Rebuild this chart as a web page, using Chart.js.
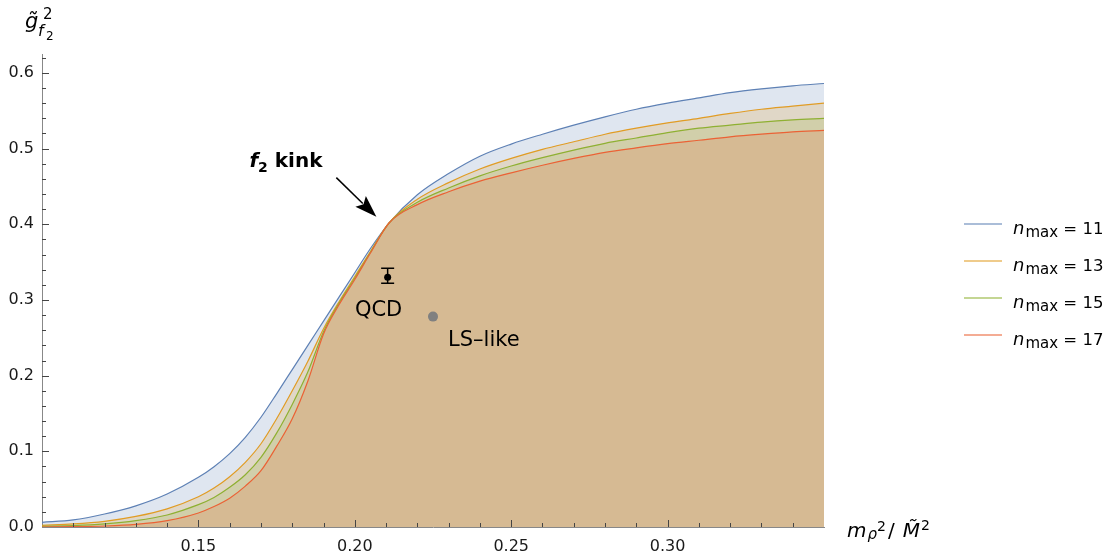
<!DOCTYPE html>
<html>
<head>
<meta charset="utf-8">
<script src="https://cdn.jsdelivr.net/npm/chart.js@4.4.0/dist/chart.umd.min.js"></script>
<style>
  html, body { margin: 0; padding: 0; background: #fff; }
  #wrap { width: 1112px; height: 556px; position: relative; }
</style>
</head>
<body>
<div id="wrap"><canvas id="kinkChart"></canvas></div>
<script>
// m_rho^2 / M^2 sample points (x axis)
const mRho2 = [0.10, 0.11, 0.12, 0.13, 0.14, 0.15, 0.155, 0.16, 0.165, 0.17, 0.175, 0.18, 0.185, 0.19, 0.195, 0.20, 0.205, 0.211,
               0.22, 0.23, 0.24, 0.25, 0.26, 0.27, 0.28, 0.29, 0.30, 0.31, 0.32, 0.33, 0.34, 0.35];

// upper bound on g_f2^2 for each n_max
const nmax11 = [0.0062, 0.0093, 0.0172, 0.028, 0.0436, 0.0656, 0.0797, 0.097, 0.1185, 0.145, 0.176, 0.208, 0.240, 0.272, 0.304, 0.336, 0.368, 0.402,
                0.439, 0.467, 0.490, 0.506, 0.519, 0.531, 0.542, 0.552, 0.560, 0.567, 0.574, 0.579, 0.583, 0.586];
const nmax13 = [0.0022, 0.004, 0.0075, 0.014, 0.024, 0.040, 0.0515, 0.0665, 0.0855, 0.110, 0.143, 0.180, 0.219, 0.262, 0.298, 0.331, 0.364, 0.402,
                0.433, 0.455, 0.473, 0.487, 0.499, 0.509, 0.519, 0.527, 0.534, 0.540, 0.5465, 0.552, 0.556, 0.560];
const nmax15 = [0.001, 0.0018, 0.004, 0.0084, 0.0159, 0.0295, 0.039, 0.0524, 0.069, 0.092, 0.124, 0.162, 0.205, 0.258, 0.296, 0.329, 0.363, 0.402,
                0.429, 0.448, 0.464, 0.477, 0.488, 0.498, 0.507, 0.514, 0.521, 0.527, 0.531, 0.535, 0.538, 0.540];
const nmax17 = [0.0, 0.0004, 0.0013, 0.0035, 0.0084, 0.0185, 0.027, 0.038, 0.054, 0.0744, 0.1065, 0.143, 0.193, 0.255, 0.294, 0.327, 0.362, 0.402,
                0.426, 0.443, 0.457, 0.468, 0.478, 0.487, 0.495, 0.501, 0.5065, 0.511, 0.5155, 0.519, 0.522, 0.524];

const nmaxLabels = ['11', '13', '15', '17'];
const lineColors = ['#5e81b5', '#e19c24', '#8fb032', '#eb6235'];
const fillColors = ['rgba(94,129,181,0.2)', 'rgba(225,156,36,0.2)', 'rgba(143,176,50,0.2)', 'rgba(235,98,53,0.2)'];

// QCD estimate with error bar, and the LS-like point
const qcdPoint = [0.2105, 0.330];
const qcdErr = [0.322, 0.342];
const lsPoint = [0.225, 0.278];

const xTicks = [0.15, 0.20, 0.25, 0.30];
const yTicks = [0.0, 0.1, 0.2, 0.3, 0.4, 0.5, 0.6];

const FONT = "'DejaVu Sans', 'Liberation Sans', Arial, sans-serif";

document.addEventListener('DOMContentLoaded', function() {
    const curves = [nmax11, nmax13, nmax15, nmax17];

    // higher order is painted first, so the n_max = 11 band goes underneath
    const curveSets = curves.map((ys, i) => ({
        label: 'n_max = ' + nmaxLabels[i],
        data: mRho2.map((x, k) => ({ x: x, y: ys[k] })),
        borderColor: lineColors[i],
        backgroundColor: fillColors[i],
        borderWidth: 1.2,
        pointRadius: 0,
        fill: 'origin',
        order: 10 - i,
        cubicInterpolationMode: 'monotone'
    }));

    const markerSets = [
        {
            label: 'QCD',
            data: [{ x: qcdPoint[0], y: qcdPoint[1] }],
            showLine: false,
            pointRadius: 3.5,
            pointBackgroundColor: '#000',
            pointBorderWidth: 0,
            fill: false,
            order: 0
        },
        {
            label: 'LS-like',
            data: [{ x: lsPoint[0], y: lsPoint[1] }],
            showLine: false,
            pointRadius: 5,
            pointBackgroundColor: '#808080',
            pointBorderWidth: 0,
            fill: false,
            order: 1
        }
    ];

    // draws text pieces one after another, returns the end x
    function run(ctx, parts, x, y) {
        parts.forEach(p => {
            ctx.font = p[1];
            ctx.fillText(p[0], x + (p[3] || 0), y + (p[2] || 0));
            x += ctx.measureText(p[0]).width + (p[3] || 0);
        });
        return x;
    }

    // inward ticks (Mathematica style), error bar, annotations, axis labels, legend
    const decorations = {
        id: 'decorations',
        afterDatasetsDraw(chart) {
            const ctx = chart.ctx;
            const xs = chart.scales.x, ys = chart.scales.y;
            const area = chart.chartArea;
            ctx.save();
            ctx.strokeStyle = '#444';
            ctx.lineWidth = 1;
            ctx.beginPath();
            for (let k = 11; k <= 34; k++) {
                const px = Math.round(xs.getPixelForValue(k / 100)) + 0.5;
                const len = (k % 5 === 0) ? 7 : 4;
                ctx.moveTo(px, area.bottom);
                ctx.lineTo(px, area.bottom - len);
            }
            for (let k = 1; k <= 31; k++) {
                const py = Math.round(ys.getPixelForValue(k * 0.02)) + 0.5;
                const len = (k % 5 === 0) ? 7 : 4;
                ctx.moveTo(area.left, py);
                ctx.lineTo(area.left + len, py);
            }
            ctx.stroke();

            // QCD error bar
            const qx = xs.getPixelForValue(qcdPoint[0]);
            const qTop = ys.getPixelForValue(qcdErr[1]);
            const qBot = ys.getPixelForValue(qcdErr[0]);
            ctx.strokeStyle = '#000';
            ctx.lineWidth = 1.5;
            ctx.beginPath();
            ctx.moveTo(qx, qTop); ctx.lineTo(qx, qBot);
            ctx.moveTo(qx - 6.5, qTop); ctx.lineTo(qx + 6.5, qTop);
            ctx.moveTo(qx - 6.5, qBot); ctx.lineTo(qx + 6.5, qBot);
            ctx.stroke();

            // point labels
            ctx.fillStyle = '#000';
            ctx.font = '21px ' + FONT;
            ctx.textBaseline = 'middle';
            ctx.textAlign = 'center';
            ctx.fillText('QCD', xs.getPixelForValue(0.2076), ys.getPixelForValue(0.286));
            ctx.textAlign = 'left';
            ctx.fillText('LS\u2013like', xs.getPixelForValue(0.2298), ys.getPixelForValue(0.246));

            // "f2 kink" label and arrow
            ctx.textBaseline = 'alphabetic';
            run(ctx, [
                ['f', 'italic bold 20px ' + FONT],
                ['2', 'bold 14px ' + FONT, 5],
                [' kink', 'bold 20px ' + FONT]
            ], xs.getPixelForValue(0.1663), ys.getPixelForValue(0.4751));

            const tx = xs.getPixelForValue(0.1941), ty = ys.getPixelForValue(0.4616);
            const hx = xs.getPixelForValue(0.2069), hy = ys.getPixelForValue(0.410);
            const dx = hx - tx, dy = hy - ty, d = Math.hypot(dx, dy);
            const ux = dx / d, uy = dy / d;
            const headLen = 22, headW = 7.5;
            const bx = hx - ux * headLen, by = hy - uy * headLen;
            ctx.lineWidth = 1.5;
            ctx.beginPath();
            ctx.moveTo(tx, ty); ctx.lineTo(bx + ux * 3, by + uy * 3);
            ctx.stroke();
            ctx.beginPath();
            ctx.moveTo(hx, hy);
            ctx.lineTo(bx - uy * headW, by + ux * headW);
            ctx.lineTo(bx + ux * 4, by + uy * 4);
            ctx.lineTo(bx + uy * headW, by - ux * headW);
            ctx.closePath();
            ctx.fill();

            // y axis title  g~^2_{f2}
            ctx.font = 'italic 21px ' + FONT;
            ctx.fillText('g\u0303', 25, 28);
            ctx.font = '15px ' + FONT;
            ctx.fillText('2', 43, 19);
            ctx.font = 'italic 16px ' + FONT;
            ctx.fillText('f', 38, 36);
            ctx.font = '12px ' + FONT;
            ctx.fillText('2', 46, 40);

            // x axis title  m_rho^2 / M~^2
            run(ctx, [
                ['m', 'italic 20px ' + FONT],
                ['\u03c1', 'italic 15px ' + FONT, 2, 1],
                ['2', '14px ' + FONT, -6],
                ['/', '20px ' + FONT, 0, 2],
                ['M\u0303', 'italic 20px ' + FONT, 0, 8],
                ['2', '14px ' + FONT, -7, 1]
            ], 847, 537);

            // legend
            curves.forEach((c, i) => {
                const ly = 224 + 37 * i;
                ctx.save();
                ctx.globalAlpha = 0.7;
                ctx.strokeStyle = lineColors[i];
                ctx.lineWidth = 1.6;
                ctx.beginPath();
                ctx.moveTo(964, ly); ctx.lineTo(1002, ly);
                ctx.stroke();
                ctx.restore();
                ctx.fillStyle = '#000';
                run(ctx, [
                    ['n', 'italic 18px ' + FONT],
                    ['max', '15px ' + FONT, 3, 1],
                    [' = ' + nmaxLabels[i], '16.5px ' + FONT]
                ], 1013, ly + 9.5);
            });
            ctx.restore();
        }
    };

    const ctx = document.getElementById('kinkChart').getContext('2d');
    new Chart(ctx, {
        type: 'line',
        data: { datasets: markerSets.concat(curveSets) },
        options: {
            responsive: true,
            maintainAspectRatio: false,
            animation: false,
            layout: { padding: { top: 54, right: 288, left: 0, bottom: 0 } },
            plugins: {
                legend: { display: false },
                tooltip: { enabled: false },
                filler: { drawTime: 'beforeDatasetsDraw' }
            },
            scales: {
                x: {
                    type: 'linear',
                    min: 0.10,
                    max: 0.35,
                    grid: { display: false, drawTicks: false },
                    border: { display: true, color: '#888', width: 1 },
                    afterBuildTicks: s => { s.ticks = xTicks.map(v => ({ value: v })); },
                    afterFit: s => { s.height = 29; },
                    ticks: {
                        padding: 10,
                        color: '#1a1a1a',
                        font: { family: FONT, size: 16 },
                        maxRotation: 0,
                        callback: v => v.toFixed(2)
                    }
                },
                y: {
                    type: 'linear',
                    min: 0,
                    max: 0.625,
                    grid: { display: false, drawTicks: false },
                    border: { display: true, color: '#888', width: 1 },
                    afterBuildTicks: s => { s.ticks = yTicks.map(v => ({ value: v })); },
                    afterFit: s => { s.width = 42; },
                    ticks: {
                        padding: 8,
                        color: '#1a1a1a',
                        font: { family: FONT, size: 16 },
                        callback: v => v.toFixed(1)
                    }
                }
            }
        },
        plugins: [decorations]
    });
});
</script>
</body>
</html>
